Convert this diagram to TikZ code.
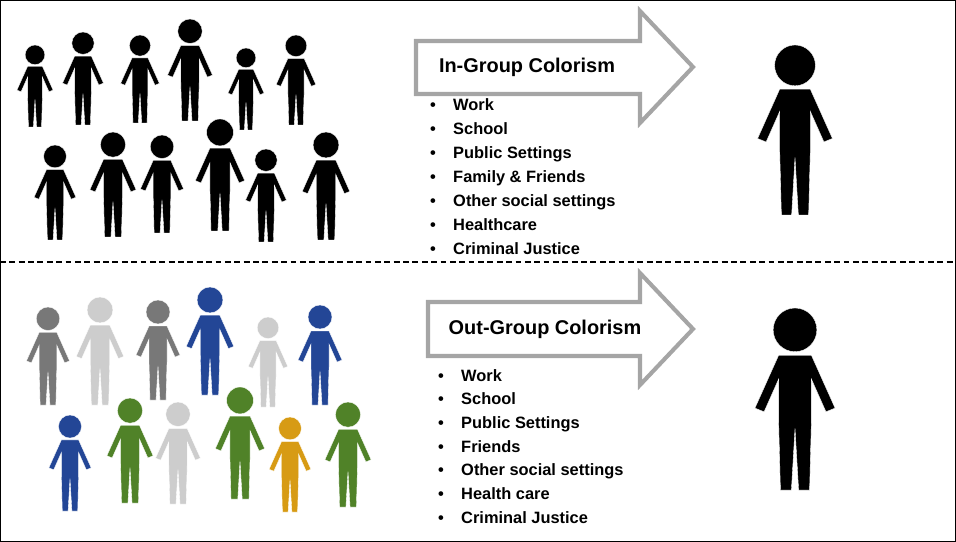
\documentclass[tikz,border=0pt]{standalone}
\usepackage{fontspec}
\setmainfont{Liberation Sans}
\definecolor{pgray}{RGB}{120,120,120}
\definecolor{plight}{RGB}{205,205,205}
\definecolor{pblue}{RGB}{35,70,150}
\definecolor{pgreen}{RGB}{80,130,40}
\definecolor{porange}{RGB}{215,155,20}
\definecolor{arrgray}{RGB}{165,165,165}
\tikzset{
  person/.pic={
    \fill[draw=white, line width=0.3pt] (0,12) circle (12);
    \fill[draw=white, line width=0.3pt] (-9,26) -- (9,26) -- (22,55) -- (17,57) -- (9,39) -- (9,62)
      -- (8,100) -- (2,100) -- (0,66) -- (-2,100) -- (-8,100) -- (-9,62) -- (-9,39)
      -- (-17,57) -- (-22,55) -- cycle;
  },
  blockarrow/.style={draw=arrgray, line width=3.5pt, fill=white, line join=miter},
  title/.style={font=\bfseries\fontsize{17}{19}\selectfont},
  item/.style={font=\bfseries\fontsize{14}{16}\selectfont, anchor=base west, inner sep=0pt}
}
\begin{document}
\begin{tikzpicture}[x=0.03cm, y=-0.03cm]
\useasboundingbox (0,0) rectangle (956,542);
\draw[line width=0.8pt] (0.5,0.5) rectangle (955.5,541.5);
\draw[line width=1.5pt, dash pattern=on 5pt off 3pt] (0,262) -- (956,262);
% upper group
\foreach \x/\y/\s in {35/45/0.82, 83/32/0.93, 140/35/0.88, 190/19/1.02, 246/48/0.82, 296/35/0.9,
  55/145/0.95, 113/132/1.05, 162/135/0.98, 220/119/1.12, 266/149/0.93, 326/132/1.08}
  \pic[black, scale=\s] at (\x,\y) {person};
\pic[black, scale=1.7] at (795,45) {person};
% lower group
\foreach \x/\y/\s/\c in {48/307/0.98/pgray, 100/297/1.08/plight, 158/300/1.0/pgray, 210/287/1.08/pblue,
  268/317/0.9/plight, 320/305/1.0/pblue, 70/415/0.96/pblue, 130/398/1.05/pgreen, 178/402/1.02/plight,
  240/387/1.12/pgreen, 290/417/0.95/porange, 348/402/1.05/pgreen}
  \pic[\c, scale=\s] at (\x,\y) {person};
\pic[black, scale=1.82] at (795,308) {person};
% arrows
\draw[blockarrow] (416,41) -- (640,41) -- (640,11) -- (693,67) -- (640,123) -- (640,94) -- (416,94) -- cycle;
\node[title] (ingroup) at (527,67) {In-Group Colorism};
\draw[blockarrow] (428,302) -- (640,302) -- (640,273) -- (693,329) -- (640,385) -- (640,356) -- (428,356) -- cycle;
\node[title] (outgroup) at (545,329) {Out-Group Colorism};
% lists
\foreach \t [count=\i] in {Work, School, Public Settings, Family \& Friends, Other social settings, Healthcare, Criminal Justice}{
  \node[item] at (430,111+24*\i-24) {\textbullet};
  \node[item] at (453,111+24*\i-24) {\t};
}
\foreach \t [count=\i] in {Work, School, Public Settings, Friends, Other social settings, Health care, Criminal Justice}{
  \node[item] at (438,381+23.7*\i-23.7) {\textbullet};
  \node[item] at (461,381+23.7*\i-23.7) {\t};
}
\end{tikzpicture}
\end{document}
